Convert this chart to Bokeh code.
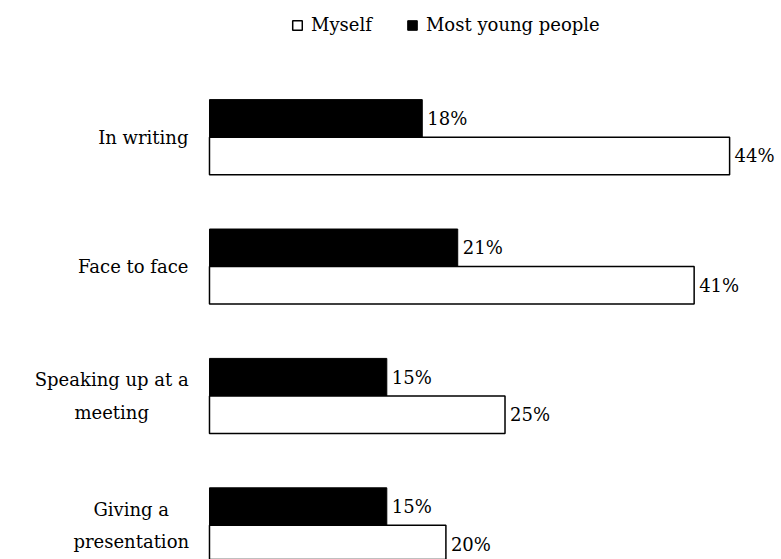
from bokeh.plotting import figure
from bokeh.models import Range1d, Legend, LegendItem, ColumnDataSource
from bokeh.core.properties import value
from bokeh.embed import file_html
from bokeh.resources import INLINE

categories = ["In writing", "Face to face", "Speaking up at a\nmeeting", "Giving a\npresentation"]
myself = [44, 41, 25, 20]
most_young = [18, 21, 15, 15]
series_names = ["Myself", "Most young people"]

FONT = "DejaVu Serif"
FS = "18px"
BAR_H = 0.29

idx = list(range(len(categories)))
src = ColumnDataSource(dict(
    cat=categories,
    y_black=[i - BAR_H / 2 for i in idx],
    y_white=[i + BAR_H / 2 for i in idx],
    myself=myself,
    young=most_young,
    myself_lbl=[f"{v}%" for v in myself],
    young_lbl=[f"{v}%" for v in most_young],
))

p = figure(width=781, height=559, output_backend="svg", toolbar_location=None,
           x_range=Range1d(-17.68, 48.39), y_range=Range1d(3.264, -1.056),
           min_border=0)
p.xaxis.visible = False
p.yaxis.visible = False
p.xgrid.visible = False
p.ygrid.visible = False
p.outline_line_color = None

r_black = p.hbar(y="y_black", left=0, right="young", height=BAR_H, source=src,
                 fill_color="black", line_color="black", line_width=1)
r_white = p.hbar(y="y_white", left=0, right="myself", height=BAR_H, source=src,
                 fill_color="white", line_color="black", line_width=1.5)

p.text(x="young", y="y_black", text="young_lbl", source=src, x_offset=5,
       text_baseline="middle", text_align="left", text_font=value(FONT),
       text_font_size=FS, text_color="black")
p.text(x="myself", y="y_white", text="myself_lbl", source=src, x_offset=5,
       text_baseline="middle", text_align="left", text_font=value(FONT),
       text_font_size=FS, text_color="black")

# category labels: single-line right aligned, multi-line centred
single = [i for i, c in enumerate(categories) if "\n" not in c]
multi = [i for i, c in enumerate(categories) if "\n" in c]
p.text(x=[-1.78] * len(single), y=[idx[i] for i in single],
       text=[categories[i] for i in single], text_align="right",
       text_baseline="middle", text_font=value(FONT), text_font_size=FS,
       text_color="black")
centers = {2: -8.27, 3: -6.62}
p.text(x=[centers[i] for i in multi], y=[idx[i] for i in multi],
       text=[categories[i] for i in multi], text_align="center",
       text_baseline="middle", text_font=value(FONT), text_font_size=FS,
       text_line_height=1.55, text_color="black")

legend = Legend(items=[LegendItem(label=series_names[0], renderers=[r_white]),
                       LegendItem(label=series_names[1], renderers=[r_black])],
                orientation="horizontal", location=(291, 524),
                glyph_width=12, glyph_height=12, label_standoff=8, spacing=34,
                padding=0, margin=0, border_line_color=None,
                background_fill_alpha=0, label_text_font=FONT,
                label_text_color="black",
                label_text_font_size=FS, label_height=14)
p.add_layout(legend)

open("out.html", "w").write(file_html(p, INLINE))
